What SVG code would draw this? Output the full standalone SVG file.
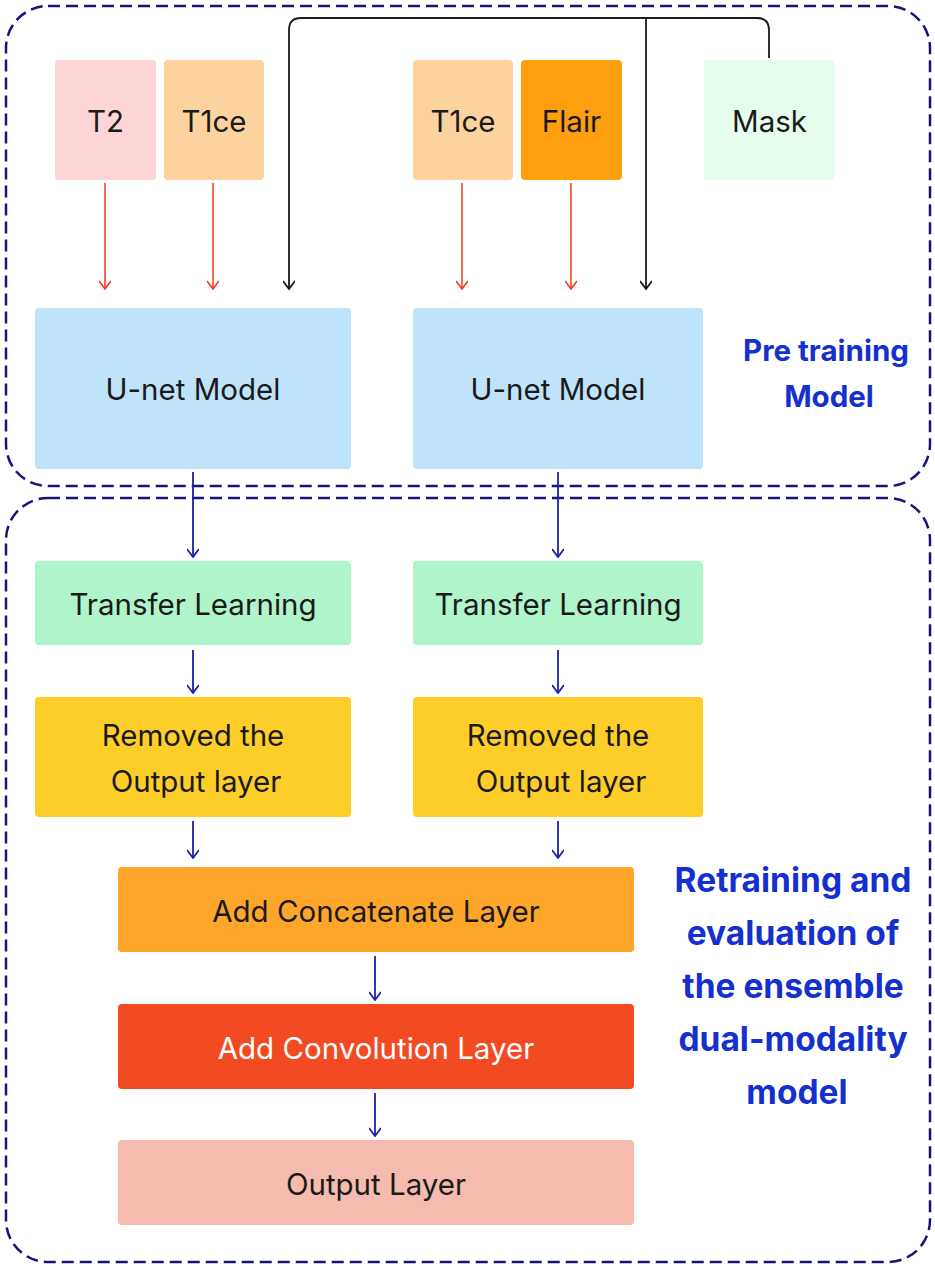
<svg xmlns="http://www.w3.org/2000/svg" width="935" height="1269" viewBox="0 0 935 1269">
<defs>
<style>
.frame{fill:none;stroke:#14147a;stroke-width:2.5;stroke-dasharray:12 6}
.lbl{font-family:Inter,"Liberation Sans",sans-serif;font-size:29.5px;fill:#1a1a1a;text-anchor:middle;dominant-baseline:central}
.side{font-family:Inter,"Liberation Sans",sans-serif;font-weight:bold;fill:#1530d0;text-anchor:middle;dominant-baseline:central}
.red{stroke:#f03a17;stroke-width:1.5;fill:none}
.blk{stroke:#1a1a1a;stroke-width:1.8;fill:none}
.blu{stroke:#1e22a8;stroke-width:1.8;fill:none}
</style>
<marker id="ar" viewBox="0 0 12 12" refX="6" refY="11" markerWidth="12" markerHeight="12" markerUnits="userSpaceOnUse"><path d="M0,3 L6,11 L12,3" fill="none" stroke="#f03a17" stroke-width="1.6"/></marker>
<marker id="ab" viewBox="0 0 12 12" refX="6" refY="11" markerWidth="12" markerHeight="12" markerUnits="userSpaceOnUse"><path d="M0,3 L6,11 L12,3" fill="none" stroke="#1a1a1a" stroke-width="1.8"/></marker>
<marker id="au" viewBox="0 0 12 12" refX="6" refY="11" markerWidth="12" markerHeight="12" markerUnits="userSpaceOnUse"><path d="M0,3 L6,11 L12,3" fill="none" stroke="#1e22a8" stroke-width="1.8"/></marker>
</defs>
<rect width="935" height="1269" fill="#ffffff"/>
<g id="frames">
<rect class="frame" x="6" y="6" width="924" height="480" rx="42"/>
<rect class="frame" x="6" y="498" width="924" height="764" rx="42"/>
</g>
<g id="connectors">
<path class="red" d="M105,183 V289" marker-end="url(#ar)"/>
<path class="red" d="M213,183 V289" marker-end="url(#ar)"/>
<path class="red" d="M462,183 V289" marker-end="url(#ar)"/>
<path class="red" d="M571,183 V289" marker-end="url(#ar)"/>
<path class="blk" d="M769,58 V30 Q769,18 757,18 H301 Q289,18 289,30 V289" marker-end="url(#ab)"/>
<path class="blk" d="M646,18 V289" marker-end="url(#ab)"/>
<path class="blu" d="M193,472 V557" marker-end="url(#au)"/>
<path class="blu" d="M558,472 V557" marker-end="url(#au)"/>
<path class="blu" d="M193,650 V693" marker-end="url(#au)"/>
<path class="blu" d="M558,650 V693" marker-end="url(#au)"/>
<path class="blu" d="M193,821 V858" marker-end="url(#au)"/>
<path class="blu" d="M558,821 V858" marker-end="url(#au)"/>
<path class="blu" d="M375,956 V1000" marker-end="url(#au)"/>
<path class="blu" d="M375,1093 V1136" marker-end="url(#au)"/>
</g>
<g id="t2"><rect x="55" y="60" width="101" height="120" rx="4" fill="#fdd5d6"/><text class="lbl" x="105.5" y="121">T2</text></g>
<g id="t1ce1"><rect x="164" y="60" width="100" height="120" rx="4" fill="#fcd29e"/><text class="lbl" x="214" y="121">T1ce</text></g>
<g id="t1ce2"><rect x="413" y="60" width="100" height="120" rx="4" fill="#fcd29e"/><text class="lbl" x="463" y="121">T1ce</text></g>
<g id="flair"><rect x="521" y="60" width="101" height="120" rx="4" fill="#fe9f10"/><text class="lbl" x="571.5" y="121">Flair</text></g>
<g id="mask"><rect x="704" y="60" width="131" height="120" rx="4" fill="#e6fdee"/><text class="lbl" x="769.5" y="121">Mask</text></g>
<g id="unet1"><rect x="35" y="308" width="316" height="161" rx="4" fill="#bfe3fb"/><text class="lbl" x="193" y="389">U-net Model</text></g>
<g id="unet2"><rect x="413" y="308" width="290" height="161" rx="4" fill="#bfe3fb"/><text class="lbl" x="558" y="389">U-net Model</text></g>
<g id="pretrain"><text class="side" font-size="29.5" x="826" y="350">Pre training</text><text class="side" font-size="29.5" x="829" y="396">Model</text></g>
<g id="tl1"><rect x="35" y="561" width="316" height="84" rx="4" fill="#aff4ca"/><text class="lbl" x="193" y="604">Transfer Learning</text></g>
<g id="tl2"><rect x="413" y="561" width="290" height="84" rx="4" fill="#aff4ca"/><text class="lbl" x="558" y="604">Transfer Learning</text></g>
<g id="rm1"><rect x="35" y="697" width="316" height="120" rx="4" fill="#fdcd2a"/><text class="lbl" x="193" y="735">Removed the</text><text class="lbl" x="196" y="781">Output layer</text></g>
<g id="rm2"><rect x="413" y="697" width="290" height="120" rx="4" fill="#fdcd2a"/><text class="lbl" x="558" y="735">Removed the</text><text class="lbl" x="561" y="781">Output layer</text></g>
<g id="concat"><rect x="118" y="867" width="516" height="85" rx="4" fill="#fea629"/><text class="lbl" x="376" y="911">Add Concatenate Layer</text></g>
<g id="conv"><rect x="118" y="1004" width="516" height="85" rx="4" fill="#f24a22"/><text class="lbl" x="376" y="1048" style="fill:#ffffff">Add Convolution Layer</text></g>
<g id="output"><rect x="118" y="1140" width="516" height="85" rx="4" fill="#f4bbae"/><text class="lbl" x="376" y="1184">Output Layer</text></g>
<g id="retrain">
<text class="side" font-size="33.5" x="793" y="880">Retraining and</text>
<text class="side" font-size="33.5" x="793" y="933">evaluation of</text>
<text class="side" font-size="33.5" x="793" y="986">the ensemble</text>
<text class="side" font-size="33.5" x="793" y="1039">dual-modality</text>
<text class="side" font-size="33.5" x="797" y="1092">model</text>
</g>
</svg>
